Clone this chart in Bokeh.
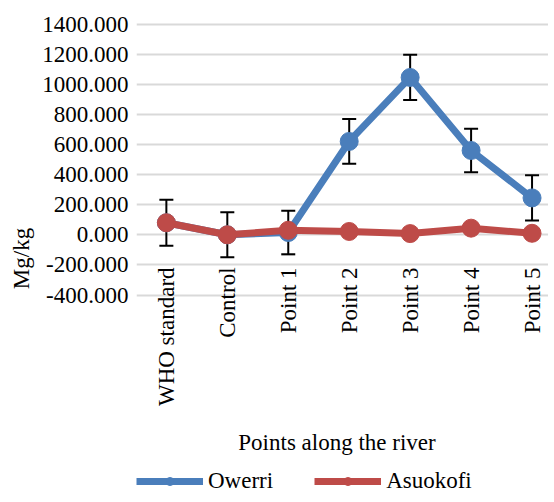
import numpy as np
from bokeh.plotting import figure
from bokeh.core.properties import value
from bokeh.models import (Range1d, FixedTicker, PrintfTickFormatter, ColumnDataSource,
                          Whisker, TeeHead, Legend, LegendItem, Title)
from bokeh.embed import file_html
from bokeh.resources import INLINE

categories = ["WHO standard", "Control", "Point 1", "Point 2", "Point 3", "Point 4", "Point 5"]
owerri = [80, 0, 15, 620, 1045, 560, 245]
owerri_err = [152, 150, 145, 149, 150, 145, 150]
asuokofi = [80, 0, 30, 22, 8, 44, 10]
y_ticks = [-400, -200, 0, 200, 400, 600, 800, 1000, 1200, 1400]
x_title = "Points along the river"
y_title = "Mg/kg"

BLUE = "#4A7EBB"
RED = "#BE4B48"
FONT = "Liberation Serif"
FS = "23px"

xs = list(range(len(categories)))
src = ColumnDataSource(dict(
    x=xs, ow=owerri, asu=asuokofi,
    lo=[v - e for v, e in zip(owerri, owerri_err)],
    hi=[v + e for v, e in zip(owerri, owerri_err)],
))

p = figure(width=546, height=494, frame_width=412, frame_height=472,
           output_backend="svg", toolbar_location=None,
           x_range=Range1d(-0.49, 6.27), y_range=Range1d(-1725, 1410),
           min_border_left=134, min_border_right=0, min_border_top=22,
           min_border_bottom=0)
p.outline_line_color = None
p.background_fill_color = "white"
p.xgrid.visible = False
p.ygrid.grid_line_color = "#D9D9D9"
p.ygrid.grid_line_width = 2
p.ygrid.ticker = FixedTicker(ticks=y_ticks)
p.xaxis.visible = False

# y axis
p.yaxis.ticker = FixedTicker(ticks=y_ticks)
p.yaxis.formatter = PrintfTickFormatter(format="%.3f")
p.yaxis.axis_line_color = None
p.yaxis.major_tick_line_color = None
p.yaxis.minor_tick_line_color = None
p.yaxis.major_tick_out = 0
p.yaxis.major_label_standoff = 8
p.yaxis.major_label_text_font = FONT
p.yaxis.major_label_text_font_size = FS
p.yaxis.major_label_text_color = "black"

ytitle = Title(text=y_title, align="center", offset=108, standoff=12,
               text_font=FONT, text_font_size=FS, text_font_style="normal",
               text_color="black")
p.add_layout(ytitle, "left")

# category labels (vertical) and x title
lab_src = ColumnDataSource(dict(x=xs, y=[-217] * len(xs), text=categories))
p.text(x="x", y="y", text="text", source=lab_src, angle=np.pi / 2,
       text_align="right", text_baseline="middle",
       text_font=value(FONT), text_font_size=value(FS), text_color="black")
p.text(x=[2.8], y=[-1380], text=[x_title], text_align="center", text_baseline="middle",
       text_font=value(FONT), text_font_size=value(FS), text_color="black")

# error bars
wh = Whisker(source=src, base="x", lower="lo", upper="hi", line_color="black", line_width=2,
             upper_head=TeeHead(size=14, line_color="black", line_width=2),
             lower_head=TeeHead(size=14, line_color="black", line_width=2))
p.add_layout(wh)

l1 = p.line("x", "ow", source=src, line_color=BLUE, line_width=7)
s1 = p.scatter("x", "ow", source=src, size=18, fill_color=BLUE, line_color=BLUE)
l2 = p.line("x", "asu", source=src, line_color=RED, line_width=7)
s2 = p.scatter("x", "asu", source=src, size=18, fill_color=RED, line_color=RED)

legend = Legend(items=[LegendItem(label="Owerri", renderers=[l1, s1]),
                       LegendItem(label="Asuokofi", renderers=[l2, s2])],
                orientation="horizontal", location=(0, 0))
legend.border_line_color = None
legend.background_fill_alpha = 0
legend.label_text_font = FONT
legend.label_text_font_size = FS
legend.label_text_color = "black"
legend.glyph_width = 67
legend.glyph_height = 20
legend.label_standoff = 5
legend.spacing = 41
legend.padding = 0
legend.margin = 0
p.add_layout(legend, "center")

open("out.html", "w").write(file_html(p, INLINE))
